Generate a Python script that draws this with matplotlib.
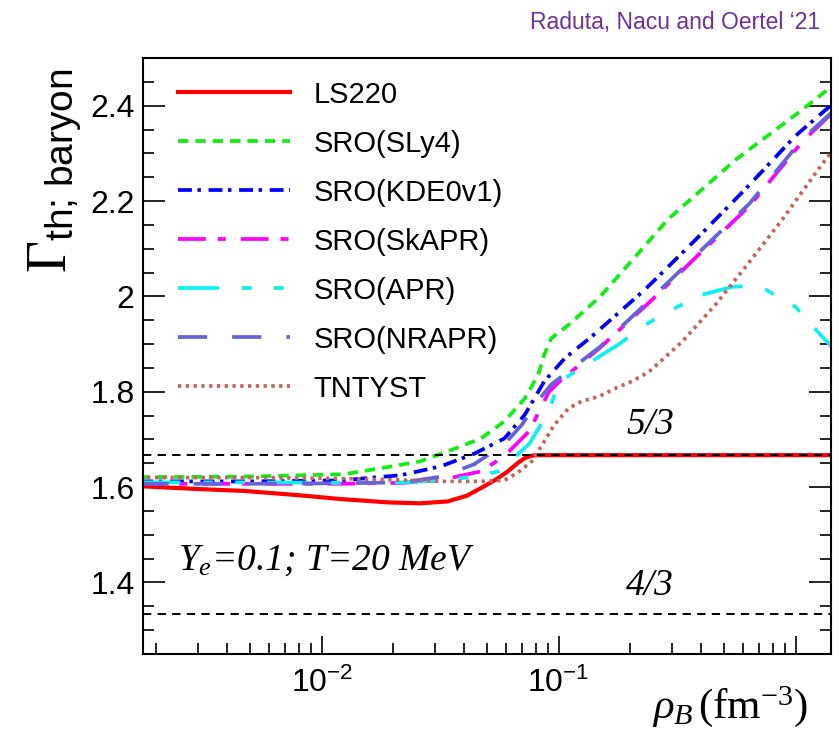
import matplotlib
matplotlib.use("Agg")
import matplotlib.pyplot as plt
from matplotlib import font_manager
from matplotlib.ticker import MultipleLocator, LogLocator, NullFormatter

# %% data
rho_ls220 = [0.0017, 0.003, 0.0047, 0.008, 0.012, 0.019, 0.026, 0.034, 0.041, 0.047,
             0.054, 0.061, 0.067, 0.072, 0.077, 0.082, 1.5]
gam_ls220 = [1.602, 1.596, 1.592, 1.583, 1.575, 1.568, 1.566, 1.570, 1.582, 1.598,
             1.615, 1.633, 1.650, 1.661, 1.666, 1.667, 1.667]

rho_sly4 = [0.0017, 0.0047, 0.0124, 0.019, 0.026, 0.034, 0.047, 0.059, 0.072, 0.082,
            0.087, 0.093, 0.11, 0.15, 0.29, 0.56, 1.07, 1.45]
gam_sly4 = [1.621, 1.622, 1.627, 1.642, 1.654, 1.675, 1.702, 1.738, 1.786, 1.836,
            1.878, 1.912, 1.940, 2.000, 2.162, 2.287, 2.392, 2.444]

rho_kde = [0.0017, 0.005, 0.012, 0.0216, 0.032, 0.044, 0.059, 0.072, 0.087, 0.106,
           0.138, 0.231, 0.377, 0.614, 1.0, 1.45]
gam_kde = [1.612, 1.612, 1.614, 1.625, 1.644, 1.670, 1.702, 1.752, 1.822, 1.870,
           1.916, 2.014, 2.118, 2.225, 2.337, 2.406]

rho_skapr = [0.0017, 0.005, 0.012, 0.022, 0.032, 0.047, 0.059, 0.075, 0.091, 0.10,
             0.15, 0.248, 0.404, 0.64, 1.07, 1.45]
gam_skapr = [1.607, 1.607, 1.607, 1.609, 1.615, 1.633, 1.665, 1.717, 1.800, 1.820,
             1.893, 1.993, 2.095, 2.190, 2.325, 2.388]

rho_apr = [0.0017, 0.005, 0.012, 0.022, 0.032, 0.044, 0.056, 0.075, 0.091, 0.10,
           0.134, 0.18, 0.231, 0.30, 0.40, 0.54, 0.64, 0.75, 1.0, 1.26, 1.45]
gam_apr = [1.610, 1.610, 1.609, 1.610, 1.614, 1.622, 1.633, 1.690, 1.759, 1.820,
           1.860, 1.900, 1.940, 1.972, 2.003, 2.020, 2.022, 2.014, 1.978, 1.922, 1.890]

rho_nrapr = [0.0017, 0.005, 0.012, 0.022, 0.032, 0.044, 0.059, 0.070, 0.083, 0.093,
             0.15, 0.248, 0.404, 0.64, 1.07, 1.45]
gam_nrapr = [1.607, 1.607, 1.608, 1.610, 1.622, 1.648, 1.690, 1.731, 1.785, 1.815,
             1.895, 1.997, 2.099, 2.195, 2.330, 2.390]

rho_tnt = [0.0017, 0.005, 0.012, 0.022, 0.032, 0.040, 0.047, 0.059, 0.067, 0.077,
           0.087, 0.096, 0.110, 0.125, 0.148, 0.173, 0.204, 0.241, 0.332, 0.458,
           0.638, 0.881, 1.22, 1.45]
gam_tnt = [1.620, 1.620, 1.618, 1.615, 1.612, 1.612, 1.612, 1.614, 1.630, 1.654,
           1.696, 1.731, 1.765, 1.780, 1.790, 1.807, 1.822, 1.842, 1.905, 1.982,
           2.072, 2.162, 2.260, 2.310]

labels = ["LS220", "SRO(SLy4)", "SRO(KDE0v1)", "SRO(SkAPR)", "SRO(APR)", "SRO(NRAPR)", "TNTYST"]
gamma_ref = [5 / 3, 4 / 3]
yticks = [1.4, 1.6, 1.8, 2.0, 2.2, 2.4]
ytick_labels = ["1.4", "1.6", "1.8", "2", "2.2", "2.4"]
xticks = [1e-2, 1e-1, 1.0]
xtick_labels = [r"$\mathregular{10^{-2}}$", r"$\mathregular{10^{-1}}$", ""]

# %% fonts
names = {f.name for f in font_manager.fontManager.ttflist}
narrow = "Liberation Sans Narrow" in names
sans = "Liberation Sans Narrow" if narrow else "Liberation Sans"
fs = 24 if narrow else 21
plt.rcParams["font.family"] = [sans, "DejaVu Sans"]
plt.rcParams["mathtext.fontset"] = "custom"
plt.rcParams["mathtext.rm"] = "Liberation Serif"
plt.rcParams["mathtext.it"] = "Liberation Serif:italic"
plt.rcParams["mathtext.sf"] = sans
plt.rcParams["lines.scale_dashes"] = False

# %% plot
fig = plt.figure(figsize=(8.39, 7.34), dpi=100)
ax = fig.add_axes([0.1704, 0.109, 0.82, 0.812])

lw = 2.7
ax.plot(rho_ls220, gam_ls220, color="#ff0000", lw=3.0, label=labels[0])
ax.plot(rho_sly4, gam_sly4, color="#11ee11", lw=lw, dashes=(7.5, 5.0), label=labels[1])
ax.plot(rho_kde, gam_kde, color="#0000ff", lw=lw, dashes=(10, 4, 2.5, 5.5), label=labels[2])
ax.plot(rho_skapr, gam_skapr, color="#ff00ff", lw=lw, dashes=(20, 8.6, 5.8, 10.8), label=labels[3])
ax.plot(rho_apr, gam_apr, color="#11f0f0", lw=lw, dashes=(29.5, 16.5, 7, 16, 7, 16), label=labels[4])
ax.plot(rho_nrapr, gam_nrapr, color="#6464d6", lw=lw, dashes=(21, 18), label=labels[5])
ax.plot(rho_tnt, gam_tnt, color="#c8645a", lw=lw, dashes=(2.4, 3.2), label=labels[6])

for g in gamma_ref:
    ax.axhline(g, color="black", lw=1.4, dashes=(6, 4.5), zorder=5)

ax.set_xscale("log")
ax.set_xlim(0.00176, 1.41)
ax.set_ylim(1.25, 2.5)

ax.set_xticks(xticks)
ax.set_xticklabels(xtick_labels)
ax.xaxis.set_minor_locator(LogLocator(base=10, subs=range(2, 10), numticks=20))
ax.xaxis.set_minor_formatter(NullFormatter())
ax.set_yticks(yticks)
ax.set_yticklabels(ytick_labels)
ax.yaxis.set_minor_locator(MultipleLocator(0.05))

ax.tick_params(axis="both", which="both", direction="in", right=True, top=False,
               width=1.2, labelsize=fs + 2, colors="black")
ax.tick_params(axis="y", which="major", length=16, pad=6)
ax.tick_params(axis="y", which="minor", length=8)
ax.tick_params(axis="x", which="major", length=13, pad=10)
ax.tick_params(axis="x", which="minor", length=8)
for s in ax.spines.values():
    s.set_linewidth(1.5)

ax.set_ylabel(r"$\mathrm{\Gamma}_{\mathsf{th;\,baryon}}$", fontsize=40)
ax.yaxis.set_label_coords(-0.085, 0.81)
fig.text(0.963, 0.022, r"$\rho_B\,(\mathrm{fm}^{-3})$", fontsize=31, ha="right", va="baseline")

ax.legend(loc="upper left", bbox_to_anchor=(0.051, 0.962), frameon=False, fontsize=fs,
          handlelength=3.85, handletextpad=0.8, labelspacing=0.72, borderpad=0, borderaxespad=0)

serif = dict(family="Liberation Serif", style="italic", color="black")
ax.text(0.051, 0.141, r"$Y_e$=0.1; T=20 MeV", fontsize=27, ha="left", va="baseline",
        transform=ax.transAxes, **serif)
ax.text(0.737, 0.384, "5/3", fontsize=27, ha="center", va="center", transform=ax.transAxes, **serif)
ax.text(0.737, 0.114, "4/3", fontsize=27, ha="center", va="center", transform=ax.transAxes, **serif)

fig.text(0.978, 0.97, "Raduta, Nacu and Oertel \u201821", fontsize=16.5, color="#7030a0",
         family="Liberation Sans", ha="right", va="center")

fig.savefig("out.png", dpi=100)
